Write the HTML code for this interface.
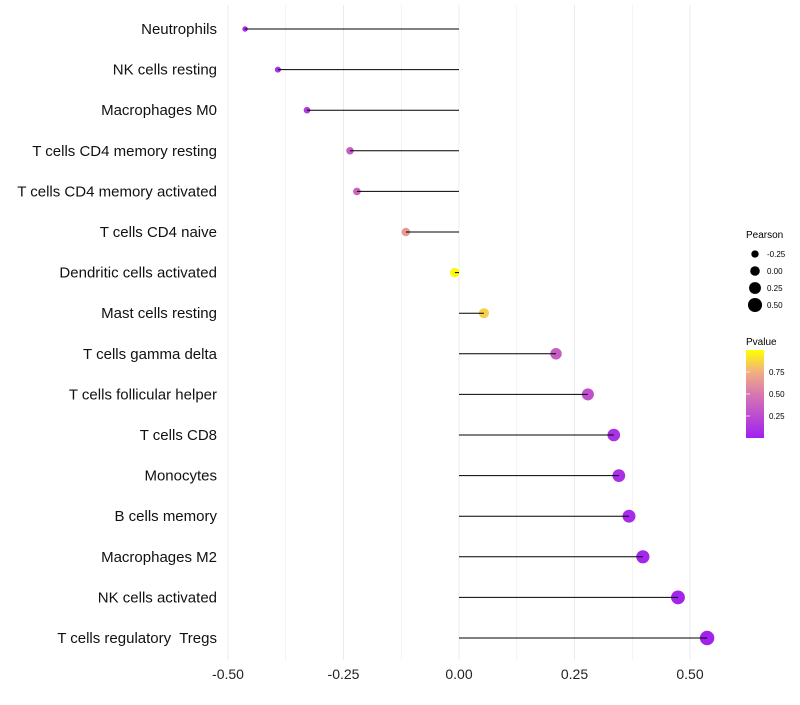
<!DOCTYPE html>
<html><head><meta charset="utf-8"><style>
body{margin:0;background:#fff;font-family:"Liberation Sans",sans-serif}
text{white-space:pre}
</style></head><body>
<svg id="chart" width="800" height="700" xmlns="http://www.w3.org/2000/svg" font-family="Liberation Sans, sans-serif">
<g id="grid"></g>
<g id="marks"></g>
<g id="stems"></g>
<g id="ylabels"></g>
<g id="xlabels"></g>
<g>
<text x="746" y="238" font-size="10">Pearson</text>
<g id="sizeleg"></g>
</g>
<g>
<text x="746" y="345" font-size="10">Pvalue</text>
<defs><linearGradient id="pg" x1="0" y1="1" x2="0" y2="0">
<stop offset="0" stop-color="#a020f0"/><stop offset="0.5" stop-color="#d878b0"/><stop offset="0.75" stop-color="#f0b080"/><stop offset="1" stop-color="#ffff00"/></linearGradient></defs>
<rect x="746" y="350" width="18" height="88" fill="url(#pg)"/>
<g id="colleg"></g>
</g>
</svg>
<script>
const categories=["Neutrophils","NK cells resting","Macrophages M0","T cells CD4 memory resting","T cells CD4 memory activated","T cells CD4 naive","Dendritic cells activated","Mast cells resting","T cells gamma delta","T cells follicular helper","T cells CD8","Monocytes","B cells memory","Macrophages M2","NK cells activated","T cells regulatory  Tregs"];
const pearson=[-0.463,-0.392,-0.329,-0.236,-0.221,-0.115,-0.009,0.054,0.210,0.279,0.335,0.346,0.368,0.398,0.474,0.537];
const pvalue=[0.05,0.1,0.15,0.35,0.38,0.65,0.98,0.85,0.35,0.28,0.1,0.08,0.06,0.04,0.02,0.01];
const xTicks=[-0.5,-0.25,0,0.25,0.5];
const xTickLabels=["-0.50","-0.25","0.00","0.25","0.50"];
const sizeLegVals=[-0.25,0,0.25,0.5];
const sizeLegLabels=["-0.25","0.00","0.25","0.50"];
const colLegVals=[0.25,0.5,0.75];
const colLegLabels=["0.25","0.50","0.75"];
const NS="http://www.w3.org/2000/svg";
const x=v=>459+v*462;
const y=i=>29+i*40.6;
const r=v=>Math.max(1.5,4.8+4.5*v);
const stops=[[0,[160,32,240]],[0.5,[216,120,176]],[0.75,[240,176,128]],[1,[255,255,0]]];
function col(p){for(let k=1;k<stops.length;k++){if(p<=stops[k][0]){const a=stops[k-1],b=stops[k],t=(p-a[0])/(b[0]-a[0]);return "rgb("+a[1].map((c,j)=>Math.round(c+(b[1][j]-c)*t)).join(",")+")";}}return "rgb(255,255,0)";}
function mk(tag,at,parent){const e=document.createElementNS(NS,tag);for(const k in at)e.setAttribute(k,at[k]);document.getElementById(parent).appendChild(e);return e;}
for(let v=-0.5;v<=0.5001;v+=0.125){const l=mk("line",{x1:x(v),x2:x(v),y1:5,y2:660,stroke:"#ebebeb","stroke-width":v%0.25===0?1:0.6},"grid");

}
xTicks.forEach((v,i)=>{const t=mk("text",{x:x(v),y:679,"font-size":14,"text-anchor":"middle",fill:"#222"},"xlabels");t.textContent=xTickLabels[i];

});
categories.forEach((c,i)=>{const t=mk("text",{x:217,y:y(i)+5,"font-size":15,"text-anchor":"end",fill:"#111"},"ylabels");t.textContent=c;


const l=mk("line",{x1:x(0),x2:x(pearson[i]),y1:y(i),y2:y(i),stroke:"#000","stroke-width":1},"stems");


const d=mk("circle",{cx:x(pearson[i]),cy:y(i),r:r(pearson[i]),fill:col(pvalue[i])},"marks");

});
sizeLegVals.forEach((v,i)=>{const cy=254+i*17;const d=mk("circle",{cx:755,cy:cy,r:r(v),fill:"#000"},"sizeleg");


const t=mk("text",{x:767,y:cy+3,"font-size":8},"sizeleg");t.textContent=sizeLegLabels[i];

});
colLegVals.forEach((v,i)=>{const yy=438-v*88;const t=mk("text",{x:769,y:yy+3,"font-size":8},"colleg");t.textContent=colLegLabels[i];


const l=mk("line",{x1:746,x2:750,y1:yy,y2:yy,stroke:"#fff","stroke-width":0.7},"colleg");

});
</script>
</body></html>
